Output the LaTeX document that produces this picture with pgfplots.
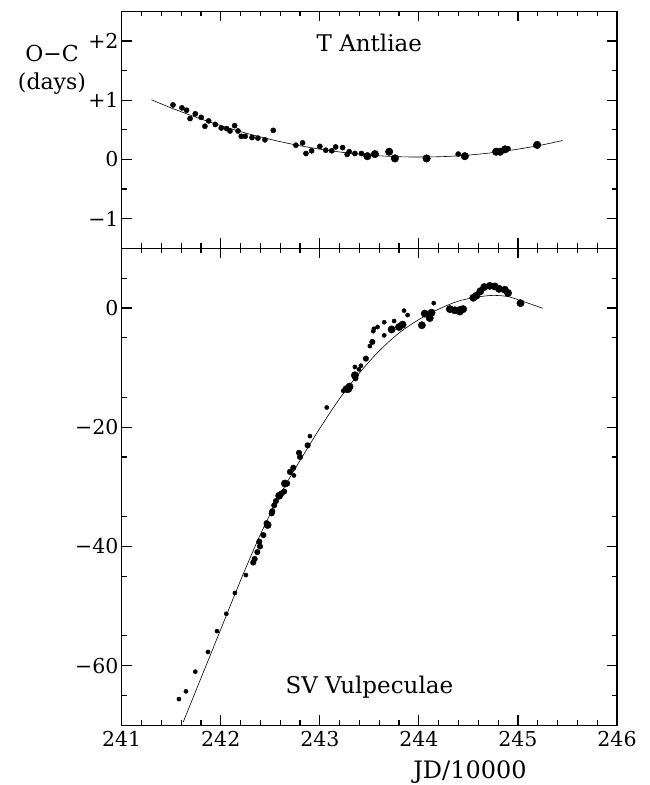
\documentclass[border=0pt]{standalone}
\usepackage{fontspec}
\setmainfont{DejaVu Serif}
\usepackage{pgfplots}
\pgfplotsset{compat=1.18}
\begin{document}
\begin{tikzpicture}
\pgfplotsset{
  every axis/.append style={
    scale only axis, width=495.3pt,
    xmin=241, xmax=246,
    xtick={241,242,243,244,245,246},
    minor xtick={241.2,241.4,241.6,241.8,242.2,242.4,242.6,242.8,243.2,243.4,243.6,243.8,244.2,244.4,244.6,244.8,245.2,245.4,245.6,245.8},
    major tick length=10pt, minor tick length=5pt,
    axis line style={line width=1.5pt},
    tick style={line width=1.2pt, black},
    tick label style={font=\fontsize{20.5}{22}\selectfont},
    yticklabel style={inner sep=3pt},
    xticklabel style={yshift=-2pt},
    clip mode=individual,
  },
}
% ---------------- bottom panel: SV Vulpeculae
\begin{axis}[
  at={(0pt,0pt)}, anchor=south west,
  height=477pt,
  ymin=-70, ymax=10,
  ytick={-60,-40,-20,0},
  yticklabels={−60,−40,−20,0},
  minor ytick={-65,-55,-45,-35,-25,-15,-5,5},
  xticklabels={241,242,243,244,245,246},
  xlabel={JD/10000},
  xlabel style={at={(axis description cs:0.7032,0)}, anchor=base, yshift=-53.5pt, font=\fontsize{24}{26}\selectfont},
]
% fitted curve
\addplot[black, line width=0.6pt, smooth, tension=0.5] coordinates {
(241.62,-69.5) (241.80,-62.1) (242.00,-53.9) (242.20,-45.7) (242.40,-38.0)
(242.60,-31.3) (242.80,-25.6) (243.00,-20.2) (243.20,-15.2) (243.40,-10.9)
(243.60,-7.2) (243.80,-4.2) (244.00,-1.95) (244.20,-0.2) (244.40,1.15)
(244.60,1.85) (244.75,2.1) (244.90,1.9) (245.05,1.1) (245.25,-0.05)
};
% small dots
\addplot[black, only marks, mark=*, mark size=2.1pt] coordinates {
(241.578,-65.6) (241.649,-64.3) (241.743,-61.0) (241.871,-57.7) (241.962,-54.2)
(242.056,-51.3) (242.143,-47.8) (242.254,-44.8) (242.739,-28.1) (242.90,-21.5)
(243.07,-16.7) (243.236,-13.9) (243.354,-9.9) (243.395,-10.3) (243.415,-9.7)
(243.505,-6.4) (243.54,-3.9) (243.546,-3.5) (243.583,-3.2) (243.65,-2.4)
(243.65,-4.6) (243.75,-2.2) (243.85,-0.45) (243.886,-1.2) (244.15,0.8)
};
% medium dots
\addplot[black, only marks, mark=*, mark size=2.8pt] coordinates {
(242.328,-42.7) (242.342,-42.1) (242.369,-40.95) (242.396,-40.0) (242.389,-39.2)
(242.43,-38.1) (242.463,-36.1) (242.514,-34.45) (242.52,-34.1) (242.54,-33.1)
(242.557,-32.4) (242.614,-31.1) (242.64,-30.8) (242.671,-29.45) (242.698,-27.5)
(242.732,-26.8) (242.80,-25.0) (242.79,-24.3) (242.877,-23.05) (243.465,-8.5)
(243.53,-5.7) (243.36,-11.8)
};
% large dots
\addplot[black, only marks, mark=*, mark size=3.7pt] coordinates {
(242.473,-36.4) (242.59,-31.5) (242.648,-29.45)
(243.27,-13.6) (243.30,-13.2) (243.287,-13.6) (243.354,-11.3)
(243.725,-3.6) (243.80,-3.2) (243.835,-2.8)
(244.03,-2.9) (244.06,-0.95) (244.11,-1.7) (244.128,-0.8)
(244.313,-0.2) (244.363,-0.4) (244.414,-0.6) (244.447,-0.2) (244.42,-0.3)
(244.55,1.7) (244.58,2.05) (244.62,2.8) (244.66,3.5) (244.716,3.7)
(244.767,3.6) (244.81,3.2) (244.868,3.05) (244.90,2.5) (245.026,0.8)
};
\node[anchor=base, font=\fontsize{23}{25}\selectfont] at (axis cs:243.5,-64.7) {SV Vulpeculae};
\end{axis}
% ---------------- top panel: T Antliae
\begin{axis}[
  at={(0pt,477pt)}, anchor=south west,
  height=237pt,
  ymin=-1.5, ymax=2.5,
  ytick={-1,0,1,2},
  yticklabels={−1,0,+1,+2},
  minor ytick={-0.5,0.5,1.5},
  xticklabels={},
]
\addplot[black, line width=0.6pt, smooth] coordinates {
(241.30,1.007) (241.50,0.869) (241.75,0.712) (242.00,0.571) (242.25,0.446)
(242.50,0.339) (242.75,0.247) (243.00,0.173) (243.25,0.115) (243.50,0.073)
(243.75,0.048) (244.00,0.040) (244.25,0.048) (244.50,0.073) (244.75,0.115)
(245.00,0.173) (245.25,0.247) (245.45,0.319)
};
\addplot[black, only marks, mark=*, mark size=2.6pt] coordinates {
(241.518,0.92) (241.608,0.87) (241.655,0.83) (241.69,0.69) (241.743,0.77)
(241.803,0.71) (241.84,0.56) (241.878,0.65) (241.945,0.59) (242.005,0.53)
(242.06,0.52) (242.093,0.48) (242.14,0.57) (242.174,0.48) (242.207,0.39)
(242.247,0.39) (242.315,0.37) (242.375,0.36) (242.446,0.33) (242.53,0.49)
(242.759,0.24) (242.826,0.28) (242.86,0.10) (242.917,0.145) (243.0,0.22)
(243.06,0.155) (243.12,0.145) (243.16,0.21) (243.23,0.20) (243.276,0.085)
(243.297,0.13) (243.354,0.10) (243.42,0.10) (244.397,0.09) (244.90,0.18)
};
\addplot[black, only marks, mark=*, mark size=3.8pt] coordinates {
(243.48,0.055) (243.556,0.09) (243.70,0.13) (243.758,0.017) (244.078,0.017)
(244.464,0.055) (244.78,0.13) (244.82,0.13) (244.87,0.17) (245.194,0.245)
};
\node[anchor=base, font=\fontsize{23}{25}\selectfont] at (axis cs:243.5,1.82) {T Antliae};
\node[anchor=base, font=\fontsize{22}{24}\selectfont] at (axis description cs:-0.1407,0.790) {O−C};
\node[anchor=base, font=\fontsize{22}{24}\selectfont] at (axis description cs:-0.1407,0.671) {(days)};
\end{axis}
\pgfresetboundingbox
\path (-121.7pt,-59.7pt) rectangle (528.3pt,725.3pt);
\end{tikzpicture}
\end{document}
